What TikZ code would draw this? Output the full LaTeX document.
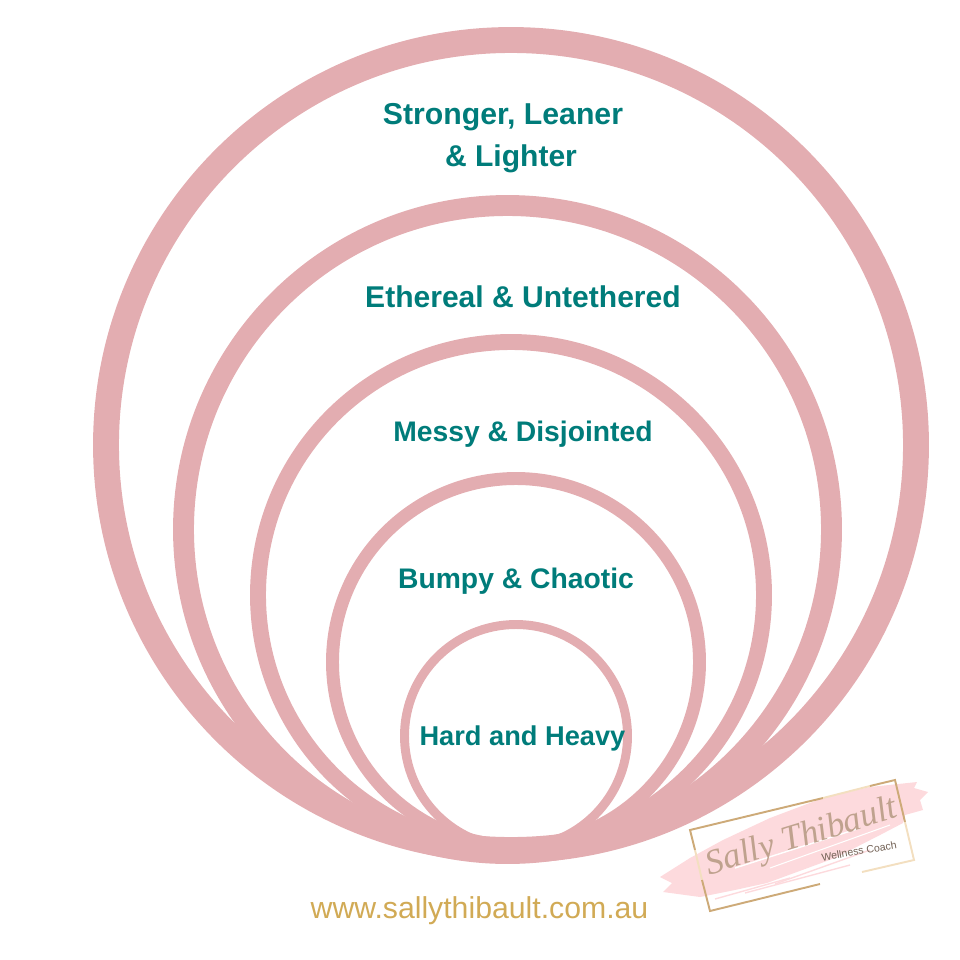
\documentclass[tikz,border=0pt]{standalone}
\usepackage{fontspec}
\setmainfont{Liberation Sans}
\newfontfamily\logofont{Liberation Serif}
\definecolor{ringpink}{HTML}{E3ADB1}
\definecolor{labelteal}{HTML}{007C7A}
\definecolor{urlgold}{HTML}{D1AA55}
\definecolor{brushpink}{HTML}{FDDADD}
\definecolor{framegold}{HTML}{CDAA78}
\definecolor{framepale}{HTML}{F3DFC0}
\definecolor{signtan}{HTML}{BFA28E}
\tikzset{
  ringline/.style={draw=ringpink,line width=#1*0.5669pt},
  ringlabel/.style={text=labelteal,font=\fontsize{#1}{18}\selectfont\bfseries,inner sep=0pt},
}
\begin{document}
\begin{tikzpicture}[x=0.02cm,y=-0.02cm]
        \useasboundingbox (0,0) rectangle (960,960);
        % rings
        \foreach \cx/\cy/\r/\w in {511/445/405/26,507.5/529.5/324/21,511/595/253/16,516/662/183.5/13,516/736/111.5/9}
        \draw[ringline=\w] (\cx,\cy) circle [radius=\r];
        % labels
        \node[ringlabel=17.2] (strong) at (503,117) {Stronger, Leaner};
        \node[ringlabel=17.1] (light) at (511,159) {\& Lighter};
        \node[ringlabel=17.1] (ether) at (523,297) {Ethereal \& Untethered};
        \node[ringlabel=16.1] (messy) at (523,434) {Messy \& Disjointed};
        \node[ringlabel=16.1] (bumpy) at (516,581) {Bumpy \& Chaotic};
        \node[ringlabel=15.5] (hard) at (522.5,738) {Hard and Heavy};
        \node[text=urlgold,font=\fontsize{17.2}{20}\selectfont,inner sep=0pt] (url) at (479.5,911) {www.sallythibault.com.au};
        % logo brush
        \fill[brushpink] (660,877) -- (690,858) -- (723,840) -- (770,818) -- (823,798) -- (870,787) -- (917,782)
        -- (914,788) -- (928,792) -- (920,800) -- (923,810) -- (905,815) -- (903,823) -- (880,835)
        -- (835,858) -- (767,883) -- (735,890) -- (700,897) -- (663,892) -- (672,883) -- cycle;
        \draw[white,line width=0.8pt] (735,868) -- (860,828);
        \draw[white,line width=0.6pt] (770,868) -- (890,825);
        \foreach \ax/\ay/\bx/\by in {715/899/790/878,745/893/850/865,775/884/870/850}
        \draw[brushpink,line width=0.8pt] (\ax,\ay) -- (\bx,\by);
        % logo frame
        \draw[framegold,line width=1.1pt] (823,798) -- (690,830) -- (695,850);
        \draw[framepale,line width=1.1pt] (695,850) -- (702,880);
        \draw[framegold,line width=1.1pt] (702,880) -- (710,911) -- (820,884);
        \draw[framepale,line width=1.1pt] (823,798) -- (870,786);
        \draw[framegold,line width=1.1pt] (870,786) -- (895,780) -- (905,822);
        \draw[framepale,line width=1.1pt] (905,822) -- (914,860) -- (862,872);
        % signature
        \node[text=signtan,rotate=17,inner sep=0pt,font=\fontsize{20}{22}\selectfont\logofont\itshape] (sign) at (802,838) {Sally Thibault};
        \node[text=signtan!60!black,rotate=10,inner sep=0pt,font=\fontsize{6}{8}\selectfont] (coach) at (859,851) {Wellness Coach};
\end{tikzpicture}
\end{document}
